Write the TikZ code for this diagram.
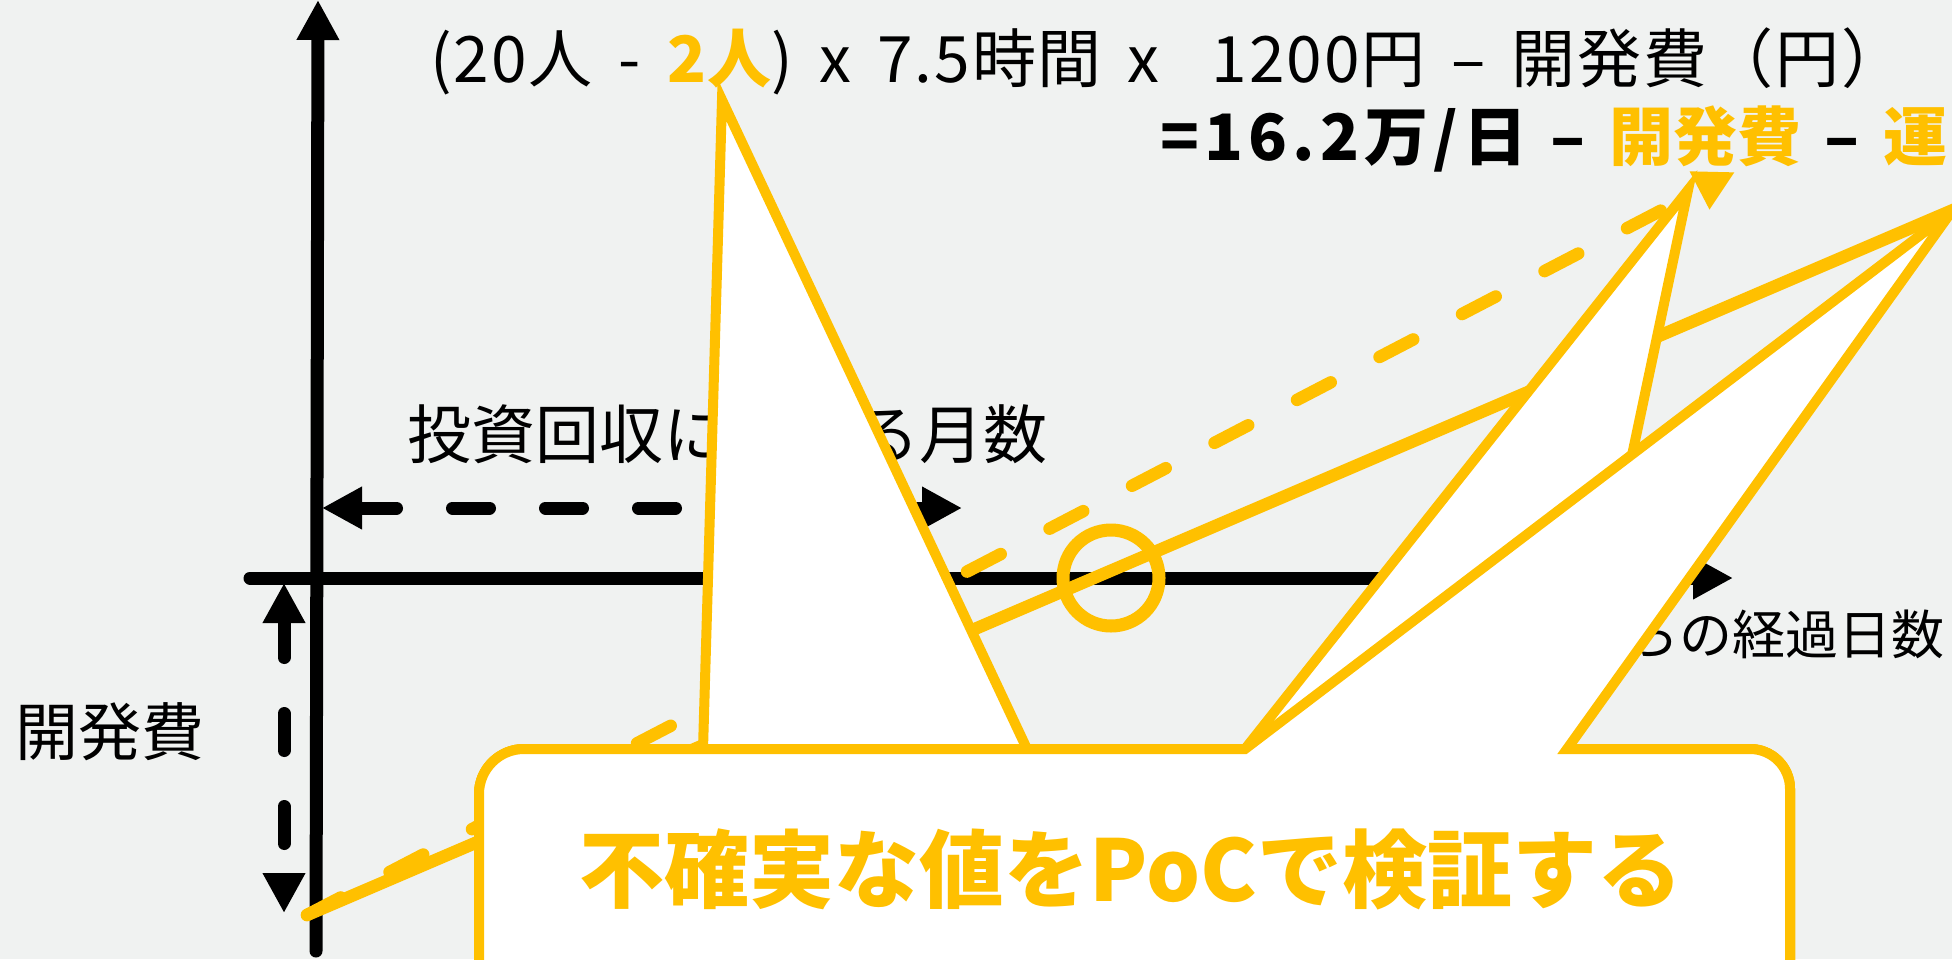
\documentclass[tikz,border=0pt]{standalone}
\usepackage{fontspec}
\setmainfont{Noto Sans CJK JP}
\newfontfamily\widejp[WordSpace=1.6]{Noto Sans CJK JP}
\usepackage{tikz}
\usetikzlibrary{arrows.meta,calc,positioning}
\definecolor{gold}{HTML}{FFC000}
\definecolor{slide}{HTML}{F0F2F1}
\tikzset{
>={Triangle[length=20pt,width=20pt]},
  axis/.style={line width=6.5pt, line cap=round, ->},
  span/.style={
    line width=6.5pt,
    line cap=round,
    dash pattern=on 18.5pt off 28pt,
    <->},
  txt/.style={inner sep=0pt, font=\fontsize{32pt}{32pt}\selectfont},
  formula/.style={inner sep=0pt, font=\fontsize{32pt}{32pt}\widejp},
  callout/.style={
    draw=gold,
    fill=white,
    line width=5pt,
    line join=miter},
}

\begin{document}
\begin{tikzpicture}[
    x=0.5pt, y=-0.5pt,
    trend/.style={gold, line width=6.25pt, line cap=round},
    guess/.style={trend, dash pattern=on 19pt off 27.5pt, ->},
    every node/.style={inner sep=0pt}
    ]

    \useasboundingbox (0,0) rectangle (1952,959);
    \fill[slide] (0,0) rectangle (1952,959);

    %labels
    \node[formula, anchor=base west, font=\fontsize{32pt}{32pt}\widejp\addfontfeature{LetterSpace=3}] (gain) at (430,82)
        {(20人 - \textcolor{gold}{\bfseries 2人}) x 7.5時間 x~~1200円 – 開発費（円）};
    \node[formula, anchor=base west, font=\fontsize{32pt}{32pt}\widejp\bfseries] (result) at (1160,160)
        {{\addfontfeature{LetterSpace=8}=16.2万/日} – \textcolor{gold}{開発費} – \textcolor{gold}{運}};
    \node[txt, anchor=base west] (payback) at (407,458) {投資回収にかかる月数};
    \node[txt, anchor=base west, font=\fontsize{31.5pt}{31.5pt}\selectfont] (devcost) at (15,755) {開発費};
    \node[txt, anchor=base east, font=\fontsize{26.5pt}{26.5pt}\selectfont] (elapsed) at (1945,654) {らの経過日数};

    %axes
    \coordinate (ybot) at (316,951);
    \coordinate (ytop) at (318,0);
    \draw[axis] (ybot) -- (ytop);
    \coordinate (xleft) at (250,578);
    \coordinate (xright) at (1733,578);
    \draw[axis] (xleft) -- (xright);

    %spans
    \coordinate (payL) at (322,508);
    \coordinate (payR) at (962,508);
    \draw[span] (payL) -- (payR);
    \coordinate (costT) at (284,583);
    \coordinate (costB) at (284,913);
    \draw[span] (costT) -- (costB);

    %yellow lines
    \coordinate (start) at (307,915);
    \coordinate (runend) at (1960,207);
    \coordinate (devtip) at (1735,172);
    \draw[guess] (start) -- (devtip);
    \draw[trend] (start) -- (runend);
    \node[draw=gold, circle, line width=6.5pt, minimum size=48pt] (breakeven) at (1111,578) {};

    %callouts
    \coordinate (tipA) at (722,100);
    \coordinate (tipB) at (1688,190);
    \coordinate (tipC) at (1952,211);
    \draw[callout] (479,1000) -- (479,794) arc[start angle=180, end angle=270, radius=45]
        -- (703,749) -- (tipA) -- (1027,749)
        -- (1750,749) arc[start angle=270, end angle=360, radius=40] -- (1790,1000);
    \draw[callout] (479,1000) -- (479,794) arc[start angle=180, end angle=270, radius=45]
        -- (1245,749) -- (tipB) -- (1570,749)
        -- (1750,749) arc[start angle=270, end angle=360, radius=40] -- (1790,1000);
    \draw[callout] (479,1000) -- (479,794) arc[start angle=180, end angle=270, radius=45]
        -- (1245,749) -- (tipC) -- (1567,749)
        -- (1750,749) arc[start angle=270, end angle=360, radius=40] -- (1790,1000);

    \node[text=gold, font=\fontsize{42.5pt}{42.5pt}\selectfont\bfseries, anchor=base] (poc) at (1131,901)
        {不確実な値をPoCで検証する};

\end{tikzpicture}
\end{document}
